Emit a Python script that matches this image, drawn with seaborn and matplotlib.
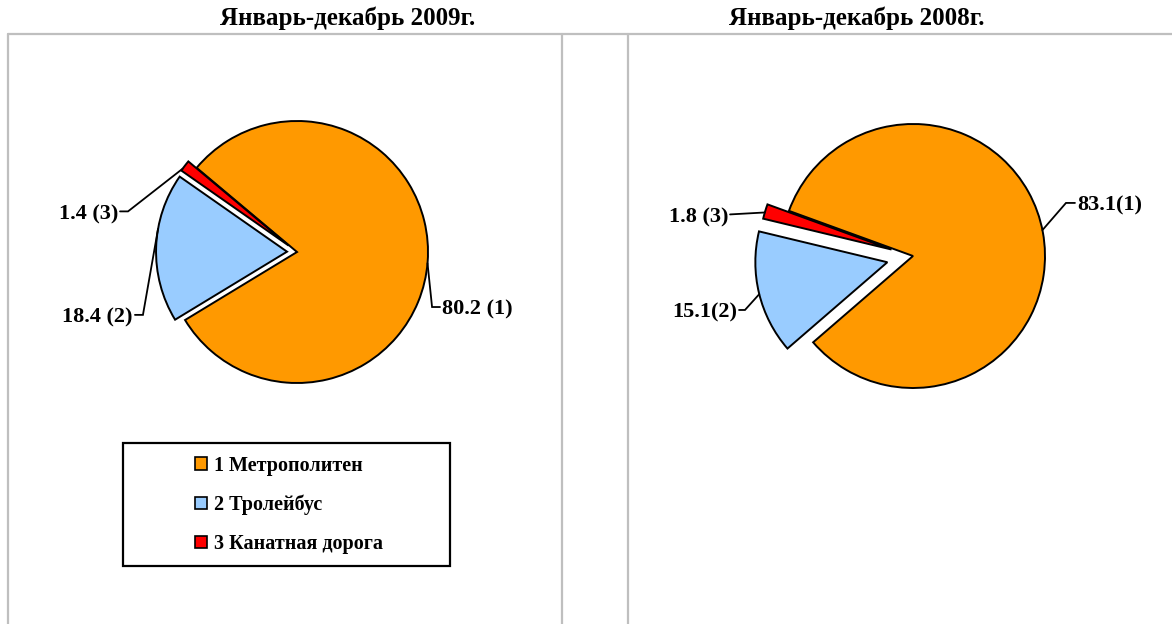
import matplotlib
matplotlib.use("Agg")
import matplotlib.pyplot as plt
import numpy as np
import seaborn as sns
from matplotlib.lines import Line2D
from matplotlib.patches import Patch, Rectangle

# données (parts en %)
categories = ["1 Метрополитен", "2 Тролейбус", "3 Канатная дорога"]
share_2009 = [80.2, 18.4, 1.4]
share_2008 = [83.1, 15.1, 1.8]
labels_2009 = ["80.2 (1)", "18.4 (2)", "1.4 (3)"]
labels_2008 = ["83.1(1)", "15.1(2)", "1.8 (3)"]
titles = ["Январь-декабрь 2009г.", "Январь-декабрь 2008г."]

colors = ["#FF9900", "#99CCFF", "#FF0000"]

W, H = 1172, 624

sns.set_theme(style="white")
plt.rcParams["font.family"] = ["Liberation Serif", "DejaVu Serif"]
plt.rcParams["text.color"] = "black"

fig = plt.figure(figsize=(W / 100, H / 100), dpi=100)


def px_axes(cx, cy, r, half=200):
    """Axes carré centré sur (cx, cy) en pixels, 1 unité = r pixels."""
    ax = fig.add_axes([(cx - half) / W, (H - cy - half) / H, 2 * half / W, 2 * half / H])
    return ax, half / r


def draw_pie(cx, cy, r, values, labels, startangle, explode, leaders):
    ax, lim = px_axes(cx, cy, r)
    wedges, _ = ax.pie(
        values,
        colors=colors,
        startangle=startangle,
        counterclock=False,
        explode=explode,
        wedgeprops=dict(edgecolor="black", linewidth=1.4),
    )
    ax.set_xlim(-lim, lim)
    ax.set_ylim(-lim, lim)
    ax.axis("off")

    # lignes de rappel : point sur l'arc -> coude -> texte
    for wedge, lab, (frac, elbow, tail, ha) in zip(wedges, labels, leaders):
        theta = np.radians(wedge.theta1 + frac * (wedge.theta2 - wedge.theta1))
        x0 = wedge.center[0] + wedge.r * np.cos(theta)
        y0 = wedge.center[1] + wedge.r * np.sin(theta)
        ax.plot([x0, elbow[0], tail[0]], [y0, elbow[1], tail[1]],
                color="black", lw=1.3, clip_on=False, solid_joinstyle="miter")
        dx = 0.015 if ha == "left" else -0.015
        ax.text(tail[0] + dx, tail[1] - 0.02, lab, ha=ha, va="center",
                fontsize=16, fontweight="bold", color="black")
    return ax


# position des étiquettes (fraction de l'arc, coude, extrémité, alignement)
leaders_2009 = [
    (0.498, (1.031, -0.42), (1.092, -0.42), "left"),
    (0.377, (-1.176, -0.48), (-1.237, -0.48), "right"),
    (0.8, (-1.29, 0.31), (-1.351, 0.31), "right"),
]
leaders_2008 = [
    (0.503, (1.159, 0.402), (1.227, 0.402), "left"),
    (0.506, (-1.273, -0.409), (-1.318, -0.409), "right"),
    (0.57, (-1.386, 0.315), (-1.386, 0.315), "right"),
]

draw_pie(297, 252, 131, share_2009, labels_2009, 140, [0, 0.076, 0.08], leaders_2009)
draw_pie(913, 256, 132, share_2008, labels_2008, 160, [0, 0.2, 0.17], leaders_2008)

# cadres gris des deux zones
grey = "#BFBFBF"
fig.add_artist(Line2D([8 / W, 1171.7 / W], [1 - 34 / H] * 2, color=grey, lw=1.6))
for xp in [8, 561.5, 627.5]:
    fig.add_artist(Line2D([xp / W] * 2, [1 - 34 / H, 0], color=grey, lw=1.6))

# titres
fig.text(348 / W, 1 - 18.5 / H, titles[0], ha="center", va="center",
         fontsize=18, fontweight="bold")
fig.text(857 / W, 1 - 18.5 / H, titles[1], ha="center", va="center",
         fontsize=18, fontweight="bold")

# légende encadrée
handles = [Patch(facecolor=c, edgecolor="black", lw=1.2) for c in colors]
fig.legend(handles, categories, loc="center", bbox_to_anchor=(289 / W, 1 - 505 / H),
           frameon=False, prop={"weight": "bold", "size": 14.5},
           handlelength=0.55, handleheight=0.55, labelspacing=0.95, handletextpad=0.35)
fig.add_artist(Rectangle((123 / W, 1 - 566 / H), 327 / W, 123 / H, fill=False,
                         edgecolor="black", lw=1.6, transform=fig.transFigure))

fig.savefig("out.png", dpi=100)
